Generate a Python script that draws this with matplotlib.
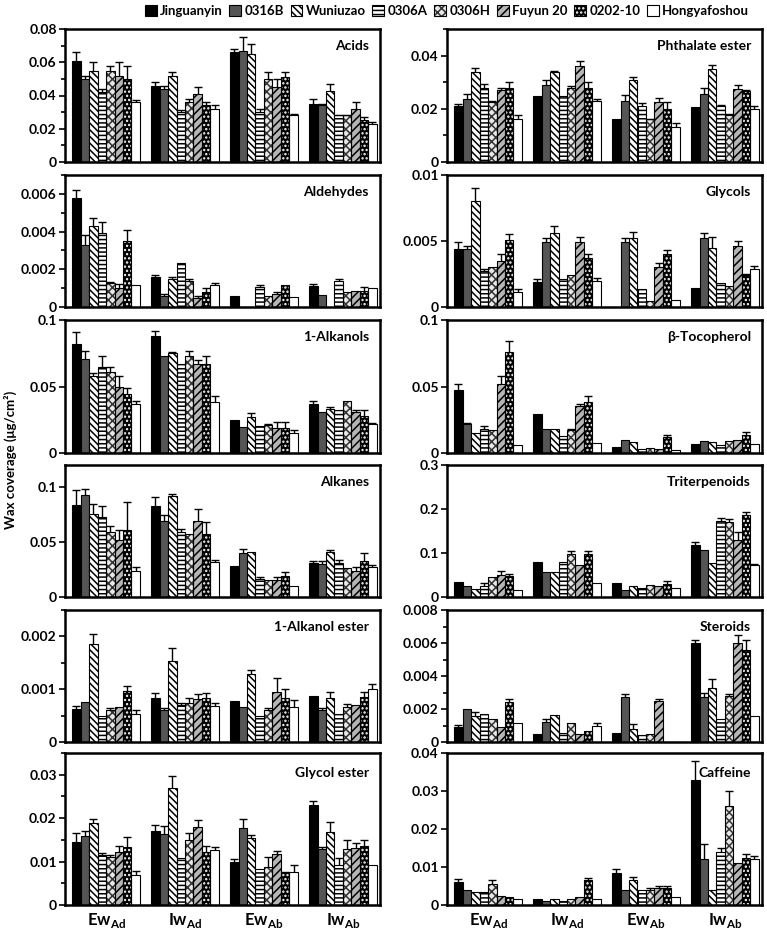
import matplotlib
matplotlib.use("Agg")
import matplotlib.pyplot as plt
import numpy as np
from matplotlib.patches import Patch
from matplotlib.ticker import MultipleLocator, FuncFormatter

plt.rcParams['font.family'] = ['Lato', 'DejaVu Sans']
plt.rcParams['font.weight'] = 'bold'
plt.rcParams['mathtext.fontset'] = 'custom'
plt.rcParams['mathtext.rm'] = 'Lato:bold'
plt.rcParams['mathtext.bf'] = 'Lato:bold'
plt.rcParams['hatch.linewidth'] = 1.1

cultivars = ["Jinguanyin", "0316B", "Wuniuzao", "0306A", "0306H", "Fuyun 20", "0202-10", "Hongyafoshou"]
conditions = [r"Ew$_{\mathbf{Ad}}$", r"Iw$_{\mathbf{Ad}}$", r"Ew$_{\mathbf{Ab}}$", r"Iw$_{\mathbf{Ab}}$"]

# rows = conditions (EwAd, IwAd, EwAb, IwAb), columns = cultivars
acids_mean = [[0.061, 0.050, 0.055, 0.042, 0.055, 0.052, 0.050, 0.036],
              [0.046, 0.044, 0.052, 0.030, 0.036, 0.041, 0.034, 0.032],
              [0.066, 0.067, 0.065, 0.030, 0.050, 0.045, 0.051, 0.028],
              [0.035, 0.034, 0.043, 0.028, 0.028, 0.032, 0.025, 0.023]]
acids_err = [[0.005, 0.002, 0.005, 0.002, 0.003, 0.008, 0.008, 0.001],
             [0.002, 0.002, 0.002, 0.001, 0.002, 0.004, 0.002, 0.002],
             [0.002, 0.008, 0.006, 0.002, 0.004, 0.005, 0.003, 0.001],
             [0.003, 0.001, 0.004, 0.0005, 0.0005, 0.004, 0.002, 0.001]]

phth_mean = [[0.021, 0.0235, 0.034, 0.0277, 0.0225, 0.027, 0.028, 0.016],
             [0.025, 0.029, 0.034, 0.025, 0.028, 0.036, 0.028, 0.023],
             [0.016, 0.023, 0.031, 0.021, 0.016, 0.0225, 0.020, 0.013],
             [0.0207, 0.0254, 0.035, 0.021, 0.0175, 0.0273, 0.0267, 0.020]]
phth_err = [[0.0007, 0.002, 0.0014, 0.0015, 0.0005, 0.001, 0.002, 0.0015],
            [0, 0.002, 0.0003, 0, 0.0007, 0.002, 0.002, 0.0007],
            [0, 0.0022, 0.001, 0.001, 0.0003, 0.0015, 0.0025, 0.0015],
            [0, 0.0025, 0.0015, 0.0005, 0.0005, 0.0015, 0.0005, 0.001]]

ald_mean = [[0.0058, 0.0033, 0.0043, 0.0039, 0.00125, 0.001, 0.0035, 0.00115],
            [0.0016, 0.0006, 0.0015, 0.00235, 0.0014, 0.0005, 0.0008, 0.00115],
            [0.00057, 0, 0, 0.00107, 0.0006, 0.0007, 0.00115, 0.00055],
            [0.0011, 0.00065, 0, 0.0014, 0.0008, 0.00085, 0.00085, 0.001]]
ald_err = [[0.0004, 0.0005, 0.0004, 0.0006, 0.0001, 0.0002, 0.0006, 0],
           [0.0001, 0.0001, 0.0001, 0, 0.0001, 0.0001, 0.0002, 0.0001],
           [0, 0, 0, 0.0001, 0, 0.0001, 0, 0],
           [0.0001, 0, 0, 0.0001, 0, 0, 0.0002, 0]]

glycols_mean = [[0.0044, 0.0044, 0.008, 0.0027, 0.003, 0.0035, 0.0051, 0.00115],
                [0.0019, 0.0049, 0.0056, 0.0021, 0.0024, 0.0049, 0.0037, 0.002],
                [0, 0.0049, 0.0052, 0.0014, 0.00045, 0.003, 0.004, 0.0005],
                [0.00145, 0.0052, 0.0045, 0.0018, 0.0016, 0.0046, 0.0024, 0.0029]]
glycols_err = [[0.0005, 0.0002, 0.001, 0.0002, 0, 0.0005, 0.0004, 0.0002],
               [0.0002, 0.0003, 0.0005, 0, 0, 0.0004, 0.0003, 0.0002],
               [0, 0.0003, 0.0005, 0, 0, 0.0003, 0.0003, 0],
               [0, 0.0004, 0.0008, 0, 0, 0.0004, 0.0001, 0.0002]]

alkanols_mean = [[0.082, 0.071, 0.058, 0.065, 0.061, 0.050, 0.044, 0.037],
                 [0.088, 0.073, 0.075, 0.067, 0.073, 0.067, 0.067, 0.038],
                 [0.025, 0.0195, 0.027, 0.020, 0.021, 0.019, 0.019, 0.015],
                 [0.037, 0.031, 0.033, 0.032, 0.039, 0.031, 0.028, 0.0215]]
alkanols_err = [[0.009, 0.006, 0.002, 0.008, 0.004, 0.008, 0.005, 0.002],
                [0.004, 0, 0.001, 0, 0.004, 0.003, 0.006, 0.005],
                [0, 0, 0.003, 0, 0.001, 0.004, 0.004, 0.002],
                [0.002, 0, 0.0015, 0, 0, 0.001, 0.004, 0.001]]

toco_mean = [[0.047, 0.0215, 0.015, 0.018, 0.0175, 0.052, 0.076, 0.006],
             [0.029, 0.018, 0.018, 0.0125, 0.017, 0.035, 0.038, 0.0078],
             [0.0045, 0.0095, 0.008, 0.0028, 0.004, 0.003, 0.0118, 0.0025],
             [0.007, 0.0088, 0.008, 0.0062, 0.009, 0.0095, 0.0138, 0.007]]
toco_err = [[0.005, 0.001, 0, 0.002, 0, 0.006, 0.008, 0],
            [0, 0, 0, 0, 0.001, 0.002, 0.005, 0],
            [0, 0, 0, 0, 0, 0, 0.002, 0],
            [0, 0, 0, 0, 0, 0, 0.002, 0]]

alkanes_mean = [[0.084, 0.093, 0.0756, 0.073, 0.059, 0.052, 0.061, 0.024],
                [0.083, 0.069, 0.092, 0.059, 0.057, 0.069, 0.057, 0.032],
                [0.028, 0.040, 0.041, 0.016, 0.0156, 0.0156, 0.019, 0.010],
                [0.031, 0.030, 0.041, 0.031, 0.026, 0.024, 0.033, 0.0275]]
alkanes_err = [[0.013, 0.005, 0.009, 0.01, 0.006, 0.009, 0.025, 0.003],
               [0.008, 0.006, 0.002, 0.003, 0, 0.011, 0.011, 0.002],
               [0, 0.004, 0, 0.002, 0, 0.003, 0.004, 0],
               [0.002, 0.003, 0.002, 0.003, 0, 0.003, 0.007, 0.002]]

triterp_mean = [[0.034, 0.024, 0.019, 0.024, 0.045, 0.049, 0.047, 0.015],
                [0.079, 0.057, 0.057, 0.079, 0.097, 0.073, 0.098, 0.032],
                [0.032, 0.017, 0.024, 0.020, 0.028, 0.026, 0.030, 0.020],
                [0.119, 0.106, 0.077, 0.173, 0.170, 0.130, 0.186, 0.072]]
triterp_err = [[0, 0, 0, 0.007, 0, 0.01, 0.005, 0],
               [0, 0, 0, 0, 0.007, 0, 0.006, 0],
               [0, 0, 0, 0, 0, 0, 0.006, 0],
               [0.006, 0, 0, 0.007, 0.008, 0.017, 0.007, 0.004]]

alkester_mean = [[0.000625, 0.00075, 0.00186, 0.00049, 0.0006, 0.00067, 0.00096, 0.00053],
                 [0.00084, 0.0006, 0.00154, 0.0007, 0.00073, 0.00081, 0.00084, 0.00069],
                 [0.00078, 0.00067, 0.00128, 0.0005, 0.0006, 0.00094, 0.00084, 0.00066],
                 [0.00088, 0.0006, 0.00084, 0.00053, 0.00067, 0.0007, 0.00085, 0.001]]
alkester_err = [[0.00005, 0, 0.00018, 0, 0.00005, 0, 0.0001, 0.00007],
                [0.00008, 0.00005, 0.00024, 0.00003, 0.0001, 0.0001, 0.00008, 0.00004],
                [0, 0, 0.00008, 0, 0.00005, 0.00027, 0.00016, 0.00013],
                [0, 0.00005, 0.0001, 0, 0.00005, 0, 0.0001, 0.0001]]

steroids_mean = [[0.0009, 0.002, 0.0016, 0.0017, 0.0014, 0.0009, 0.0024, 0.00115],
                 [0.00047, 0.0012, 0.00165, 0.00055, 0.00115, 0.0005, 0.00065, 0.00095],
                 [0.00057, 0.0027, 0.0008, 0.0004, 0.0005, 0.0025, 0, 0],
                 [0.0060, 0.0027, 0.0033, 0.0014, 0.0028, 0.006, 0.0056, 0.0016]]
steroids_err = [[0.00015, 0, 0.0002, 0, 0, 0, 0.0002, 0],
                [0, 0.0002, 0, 0, 0, 0, 0, 0.0002],
                [0, 0.0002, 0.0003, 0, 0, 0.0001, 0, 0],
                [0.0002, 0.0003, 0.0005, 0, 0.0001, 0.0005, 0.0006, 0]]

glyester_mean = [[0.0146, 0.016, 0.0189, 0.0114, 0.0111, 0.0122, 0.0133, 0.0069],
                 [0.017, 0.0163, 0.027, 0.0109, 0.015, 0.018, 0.0123, 0.0127],
                 [0.010, 0.0177, 0.0154, 0.0083, 0.0088, 0.0117, 0.0073, 0.0077],
                 [0.023, 0.0129, 0.0168, 0.0092, 0.0129, 0.0132, 0.0137, 0.0091]]
glyester_err = [[0.002, 0.001, 0.0008, 0.0006, 0.0003, 0.0013, 0.0024, 0.001],
                [0.0015, 0.0018, 0.0028, 0, 0.0015, 0.0015, 0.0014, 0.0007],
                [0.0007, 0.0022, 0.0007, 0, 0.0022, 0.0008, 0.0004, 0.0016],
                [0.001, 0.0005, 0.0022, 0.0016, 0.0021, 0.001, 0.0013, 0]]

caffeine_mean = [[0.006, 0.004, 0.0035, 0.0035, 0.0055, 0.0025, 0.002, 0.0015],
                 [0.0015, 0.001, 0.0015, 0.001, 0.0015, 0.002, 0.0065, 0.0015],
                 [0.0085, 0.004, 0.0065, 0.004, 0.004, 0.0045, 0.0045, 0.002],
                 [0.033, 0.012, 0.004, 0.014, 0.026, 0.011, 0.0125, 0.012]]
caffeine_err = [[0.0008, 0, 0, 0, 0.001, 0, 0, 0],
                [0, 0, 0, 0, 0, 0, 0.0005, 0],
                [0.001, 0, 0.001, 0, 0.0005, 0.0005, 0.0005, 0],
                [0.005, 0.004, 0, 0.001, 0.004, 0, 0.001, 0.001]]

# panel: (title, mean, err, ymax, major, minor)
left_panels = [("Acids", acids_mean, acids_err, 0.08, 0.02, 0.01),
               ("Aldehydes", ald_mean, ald_err, 0.007, 0.002, 0.001),
               ("1-Alkanols", alkanols_mean, alkanols_err, 0.1, 0.05, None),
               ("Alkanes", alkanes_mean, alkanes_err, 0.12, 0.05, None),
               ("1-Alkanol ester", alkester_mean, alkester_err, 0.0025, 0.001, 0.0005),
               ("Glycol ester", glyester_mean, glyester_err, 0.035, 0.01, 0.005)]
right_panels = [("Phthalate ester", phth_mean, phth_err, 0.05, 0.02, 0.01),
                ("Glycols", glycols_mean, glycols_err, 0.01, 0.005, None),
                ("β-Tocopherol", toco_mean, toco_err, 0.1, 0.05, None),
                ("Triterpenoids", triterp_mean, triterp_err, 0.3, 0.1, None),
                ("Steroids", steroids_mean, steroids_err, 0.008, 0.002, 0.001),
                ("Caffeine", caffeine_mean, caffeine_err, 0.04, 0.01, None)]

# styles per cultivar: (facecolor, hatch, hatchcolor)
styles = [("black", None, "black"),
          ("#555555", None, "black"),
          ("white", "\\\\\\\\\\", "black"),
          ("white", "----", "black"),
          ("#e8e8e8", "xxxx", "#333333"),
          ("#b5b5b5", "////", "black"),
          ("black", "....", "white"),
          ("white", None, "black")]

W, H = 767, 932
fig = plt.figure(figsize=(W / 100, H / 100), dpi=100)

rows_px = [(29, 162), (175, 307), (320, 453), (465, 597), (610, 742), (753, 905)]
cols_px = [(65, 380), (447, 762)]

bw = 0.107
xg = np.arange(len(conditions))


def fmt(v, pos):
    if abs(v) < 1e-12:
        return "0"
    return f"{v:g}"


def draw_panel(ax, title, mean, err, ymax, major, minor, bottom):
    mean = np.array(mean)
    err = np.array(err)
    for k in range(len(cultivars)):
        fc, hatch, hc = styles[k]
        xs = xg + (k - 3.5) * bw
        ys = mean[:, k]
        if hatch is not None:
            ax.bar(xs, ys, width=bw, color=fc, edgecolor=hc, hatch=hatch, linewidth=0, zorder=2)
            ax.bar(xs, ys, width=bw, fill=False, edgecolor="black", linewidth=0.8, zorder=3)
        else:
            ax.bar(xs, ys, width=bw, color=fc, edgecolor="black", linewidth=0.8, zorder=2)
        e = err[:, k]
        m = e > 0
        if m.any():
            _, caps, _ = ax.errorbar(xs[m], ys[m], yerr=[np.zeros(m.sum()), e[m]], fmt="none",
                                     ecolor="black", elinewidth=1.0, capsize=3, capthick=1.0, zorder=4)
            if len(caps) == 2:
                caps[0].set_visible(False)
    ax.set_xlim(-0.52, 3.47)
    ax.set_ylim(0, ymax)
    ax.yaxis.set_major_locator(MultipleLocator(major))
    if minor:
        ax.yaxis.set_minor_locator(MultipleLocator(minor))
    ax.yaxis.set_major_formatter(FuncFormatter(fmt))
    ax.tick_params(axis="y", which="major", direction="out", length=4, width=1.2, labelsize=10, pad=2)
    ax.tick_params(axis="y", which="minor", direction="out", length=3, width=1.2)
    ax.set_xticks(xg)
    if bottom:
        ax.set_xticklabels(conditions, fontsize=12, fontweight="bold")
        ax.tick_params(axis="x", length=0, pad=4)
    else:
        ax.set_xticklabels([])
        ax.tick_params(axis="x", length=0)
    for sp in ax.spines.values():
        sp.set_linewidth(1.8)
    for lbl in ax.get_yticklabels():
        lbl.set_fontweight("bold")
    ax.text(0.965, 0.87, title, transform=ax.transAxes, ha="right", va="center",
            fontsize=10, fontweight="bold")


for c, panels in enumerate([left_panels, right_panels]):
    x0, x1 = cols_px[c]
    for r, (title, mean, err, ymax, major, minor) in enumerate(panels):
        t, b = rows_px[r]
        ax = fig.add_axes([x0 / W, 1 - b / H, (x1 - x0) / W, (b - t) / H])
        draw_panel(ax, title, mean, err, ymax, major, minor, r == len(panels) - 1)

fig.text(10 / W, 1 - 460 / H, "Wax coverage (μg/cm²)", rotation=90, ha="center", va="center",
         fontsize=9.5, fontweight="bold")

handles = []
for k in range(len(cultivars)):
    fc, hatch, hc = styles[k]
    if hatch is not None:
        handles.append((Patch(facecolor=fc, edgecolor=hc, hatch=hatch, linewidth=0),
                        Patch(fill=False, edgecolor="black", linewidth=0.8)))
    else:
        handles.append(Patch(facecolor=fc, edgecolor="black", linewidth=0.8))
fig.legend(handles, cultivars, loc="center", bbox_to_anchor=(447 / W, 1 - 11 / H), ncol=8,
           frameon=False, handlelength=0.9, handleheight=0.9, handletextpad=0.25, columnspacing=0.5,
           prop={"weight": "bold", "size": 9.5})

fig.savefig("out.png", dpi=100)
